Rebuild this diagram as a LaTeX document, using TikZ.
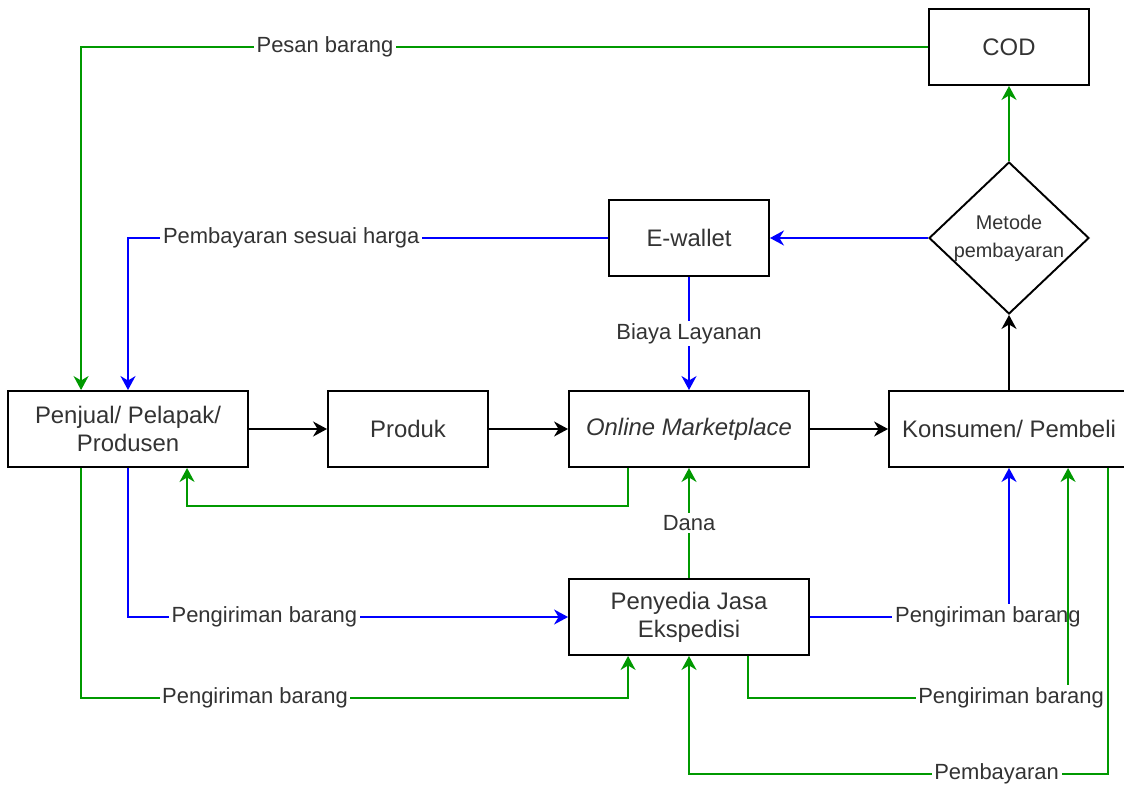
\documentclass[tikz,border=0pt]{standalone}
\usepackage{fontspec}
\setmainfont{Liberation Sans}
\usetikzlibrary{shapes.geometric,arrows.meta,calc}
\definecolor{flowgreen}{RGB}{0,153,0}
\definecolor{flowblue}{RGB}{0,0,255}
\definecolor{inkgray}{RGB}{51,51,51}

\begin{document}
\begin{tikzpicture}[x=0.02cm,y=-0.02cm,line width=1.1pt,
  >={Stealth[length=0.28cm,width=0.3cm,inset=0.09cm]},
  box/.style={draw,rectangle,align=center,minimum width=3.2cm,minimum height=1.52cm,
    text=inkgray,font=\fontsize{13.6}{16}\selectfont},
  wide/.style={box,minimum width=4.8cm},
  lbl/.style={fill=white,text=inkgray,inner sep=1.5pt,font=\fontsize{12.5}{14}\selectfont},
  grn/.style={flowgreen,->},
  blu/.style={flowblue,->}]
\useasboundingbox (0,0) rectangle (1124,787);

\node (cod) [box] at (1009,47) {COD};
\node (dia) [diamond,draw,aspect=1.05,inner sep=0pt,align=center,text=inkgray,
  minimum width=3.2cm,minimum height=3.04cm,font=\fontsize{11.3}{16}\selectfont]
  at (1009,238) {Metode\\pembayaran};
\node (ew) [box] at (689,238) {E-wallet};
\node (pen) [wide] at (128,429) {Penjual/ Pelapak/\\Produsen};
\node (prod) [box] at (408,429) {Produk};
\node (om) [wide] at (689,429) {\textit{Online Marketplace}};
\node (kon) [wide] at (1009,429) {Konsumen/ Pembeli};
\node (pe) [wide] at (689,617) {Penyedia Jasa\\Ekspedisi};

% main flow
\foreach \a/\b in {pen/prod,prod/om,om/kon,kon/dia} \draw[->] (\a) -- (\b);
\draw[grn] (dia) -- (cod);
\draw[blu] (dia) -- (ew);
\draw[blu] (ew) -- node[lbl]{Biaya Layanan} (om);
\draw[grn] (pe) -- node[lbl]{Dana} (om);

% back to seller
\draw[grn] (cod.west) -| node[lbl,pos=0.356]{Pesan barang} ($(pen.north west)+(74,0)$);
\draw[blu] (ew.west) -| node[lbl,pos=0.33]{Pembayaran sesuai harga} (pen.north);
\draw[grn] ($(om.south west)+(60,0)$) -- ++(0,38) -| ($(pen.south west)+(180,0)$);

% to courier
\draw[blu] (pen.south) |- node[lbl,pos=0.655]{Pengiriman barang} (pe.west);
\draw[grn] ($(pen.south west)+(74,0)$) |- node[lbl,pos=0.659]{Pengiriman barang}
  ($(pe.south west)+(60,42)$) -- ($(pe.south west)+(60,0)$);

% to buyer
\draw[blu] (pe.east) -| node[lbl,pos=0.447]{Pengiriman barang} (kon.south);
\draw[grn] ($(pe.south west)+(180,0)$) |- node[lbl,pos=0.911]{Pengiriman barang}
  ($(kon.south west)+(180,230)$) -- ($(kon.south west)+(180,0)$);
\draw[grn] ($(kon.south west)+(220,0)$) |- node[lbl,pos=0.633]{Pembayaran}
  ($(pe.south)+(0,118)$) -- (pe.south);
\end{tikzpicture}
\end{document}
